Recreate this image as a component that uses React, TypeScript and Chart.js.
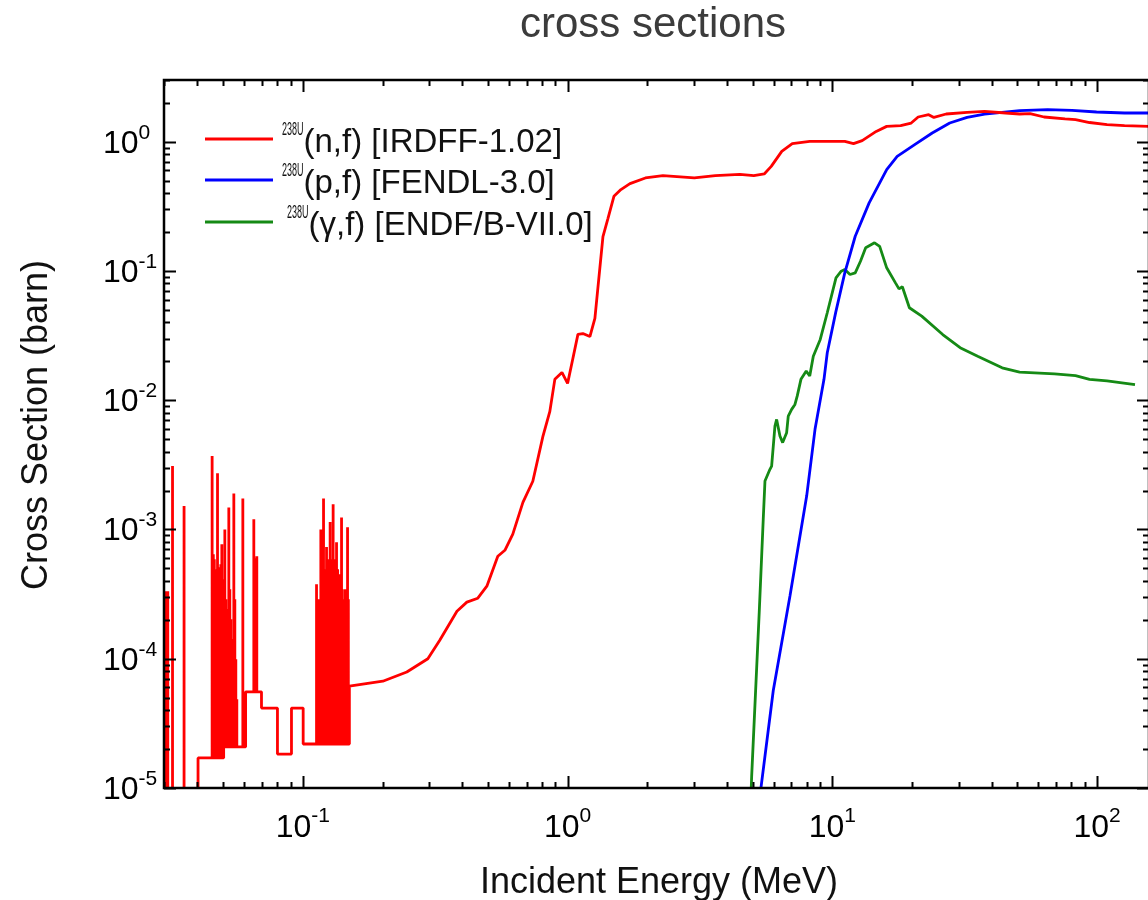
import React, { useEffect, useRef } from "react";
import { Chart, registerables } from "chart.js";

Chart.register(...registerables);

// ---- 238U(n,f) [IRDFF-1.02] ----
// histogram background of the resonance region: level nfStepXS[i] holds from nfStepE[i] to nfStepE[i+1]
const nfStepE = [0.0299, 0.0402, 0.05, 0.0608, 0.0698, 0.0802, 0.0906, 0.1003, 0.1499];
const nfStepXS = [3e-6, 1.71e-5, 2.08e-5, 5.55e-5, 4.15e-5, 1.83e-5, 4.15e-5, 2.19e-5];
// resolved resonance peaks (MeV, barn)
const nfResE = [
  0.0303, 0.0309, 0.0322, 0.0356,
  0.04544, 0.04591, 0.04631, 0.04671, 0.04712, 0.04762, 0.04808, 0.0485, 0.04901, 0.04944,
  0.04987, 0.05031, 0.05075, 0.05119, 0.05164, 0.05209, 0.05254, 0.053, 0.05346, 0.05393,
  0.0544, 0.05488, 0.05536, 0.05584, 0.05633,
  0.05935,
  0.0653, 0.06575, 0.0663, 0.06702,
  0.11266, 0.11394, 0.11494, 0.11594, 0.11695, 0.11797, 0.11973, 0.12057, 0.12162, 0.1229,
  0.12376, 0.12484, 0.12593, 0.12681, 0.12792, 0.12904, 0.13016, 0.1313, 0.13268, 0.13407,
  0.13536, 0.13619, 0.13714, 0.13858, 0.14003, 0.14101, 0.142, 0.14324, 0.14474, 0.14601,
  0.14754, 0.14857,
];
const nfResXS = [
  3.33e-4, 3.33e-4, 3.1e-3, 1.52e-3,
  3.7e-3, 6.43e-4, 5.88e-4, 4.92e-4, 2.89e-4, 2.72e-3, 5.1e-4, 4.51e-4, 5.38e-4, 7.69e-4,
  4.12e-4, 2.02e-4, 1.0e-3, 2.89e-4, 1.42e-4, 2.42e-4, 1.48e-3, 3.45e-4, 2.02e-4, 1.19e-4,
  1.42e-4, 1.9e-3, 2.89e-4, 9.9e-5, 4.87e-5,
  1.74e-3,
  1.2e-3, 6.0e-4, 5.5e-4, 6.21e-4,
  3.77e-4, 1.42e-4, 2.89e-4, 2.02e-4, 1.0e-3, 5.88e-4, 1.74e-3, 4.92e-4, 4.12e-4, 7.32e-4,
  5.88e-4, 2.89e-4, 5.38e-4, 1.14e-3, 5.88e-4, 4.12e-4, 1.57e-3, 5.88e-4, 3.45e-4, 7.96e-4,
  4.92e-4, 2.89e-4, 4.51e-4, 4.12e-4, 1.24e-3, 3.45e-4, 2.42e-4, 2.89e-4, 3.45e-4, 2.42e-4,
  1.04e-3, 2.89e-4,
];
// continuum above the resonance region
const nfE = [
  0.1499, 0.2005, 0.247, 0.2966, 0.329, 0.382, 0.4165, 0.458, 0.4955, 0.545, 0.5796, 0.621,
  0.678, 0.739, 0.8068, 0.857, 0.895, 0.952, 1.0, 1.047, 1.094, 1.142, 1.214, 1.268, 1.36,
  1.42, 1.496, 1.59, 1.72, 1.967, 2.291, 3.011, 3.614, 4.473, 5.049, 5.529, 5.877, 6.44,
  7.056, 8.214, 11.14, 12.02, 12.96, 14.64, 16.04, 18.11, 19.85, 21.09, 23.11, 24.18, 26.91,
  32.28, 37.58, 45.1, 50.95, 55.79, 63.02, 75.65, 82.86, 93.61, 109, 126.9, 157,
];
const nfXS = [
  6.14e-5, 6.7e-5, 7.9e-5, 1.0e-4, 1.39e-4, 2.33e-4, 2.74e-4, 2.94e-4, 3.64e-4, 6.2e-4, 6.9e-4,
  9.2e-4, 1.62e-3, 2.36e-3, 5.25e-3, 8.2e-3, 1.45e-2, 1.64e-2, 1.35e-2, 2.1e-2, 3.23e-2,
  3.28e-2, 3.11e-2, 4.29e-2, 0.1845, 0.254, 0.378, 0.426, 0.474, 0.524, 0.546, 0.524, 0.546,
  0.559, 0.546, 0.563, 0.644, 0.841, 0.965, 1.005, 1.005, 0.965, 1.018, 1.201, 1.313, 1.329,
  1.394, 1.552, 1.617, 1.541, 1.637, 1.684, 1.715, 1.667, 1.637, 1.646, 1.552, 1.5, 1.479,
  1.407, 1.353, 1.329, 1.313,
];

// ---- 238U(p,f) [FENDL-3.0] ----
const pfE = [
  5.3, 5.98, 6.916, 8.0, 8.6, 9.297, 9.566, 10.3, 11.14, 12.2, 13.77, 16.04, 17.57, 20.46,
  23.83, 27.75, 32.28, 37.58, 43.73, 50.95, 65.01, 80.37, 99.5, 126.9, 157,
];
const pfXS = [
  8e-6, 5.65e-5, 3.06e-4, 1.82e-3, 5.95e-3, 1.45e-2, 2.33e-2, 4.8e-2, 9.67e-2, 0.1855, 0.336,
  0.608, 0.77, 0.948, 1.167, 1.394, 1.541, 1.637, 1.684, 1.736, 1.767, 1.745, 1.696, 1.667,
  1.667,
];

// ---- 238U(gamma,f) [ENDF/B-VII.0] ----
const gfE = [
  4.92, 4.956, 5.294, 5.482, 5.565, 5.811, 5.897, 6.069, 6.159, 6.339, 6.49, 6.719, 6.814,
  7.018, 7.223, 7.369, 7.609, 7.968, 8.214, 8.472, 9.0, 9.566, 10.32, 10.8, 11.14, 11.66,
  12.2, 12.77, 13.36, 14.43, 15.09, 16.04, 17.31, 17.85, 18.38, 19.54, 21.75, 26.11, 30.38,
  35.38, 43.77, 50.95, 69.04, 82.86, 93.61, 109, 139,
];
const gfXS = [
  8e-6, 1.22e-5, 2.29e-4, 1.2e-3, 2.37e-3, 2.92e-3, 3.09e-3, 6.3e-3, 7.1e-3, 5.28e-3, 4.7e-3,
  5.61e-3, 7.54e-3, 8.49e-3, 9.28e-3, 1.08e-2, 1.45e-2, 1.68e-2, 1.54e-2, 2.19e-2, 2.95e-2,
  4.75e-2, 8.85e-2, 9.95e-2, 0.1026, 9.38e-2, 9.67e-2, 0.1188, 0.151, 0.165, 0.155, 0.1057,
  8.09e-2, 7.27e-2, 7.54e-2, 5.19e-2, 4.47e-2, 3.22e-2, 2.55e-2, 2.19e-2, 1.78e-2, 1.65e-2,
  1.6e-2, 1.55e-2, 1.45e-2, 1.41e-2, 1.32e-2,
];

// axis ranges and labelled decades
const xRange = [0.0299, 157];
const yRange = [1e-5, 3.0];
const xTickExp = [-1, 0, 1, 2];
const yTickExp = [0, -1, -2, -3, -4, -5];

const chartTitle = "cross sections";
const xTitle = "Incident Energy (MeV)";
const yTitle = "Cross Section (barn)";
const legendSup = "238U";
const legendNames = ["(n,f) [IRDFF-1.02]", "(p,f) [FENDL-3.0]", "(\u03b3,f) [ENDF/B-VII.0]"];
const seriesColors = ["#ff0000", "#0000ff", "#158a15"];

const FONT = "'Liberation Sans', Arial, Helvetica, sans-serif";

type Pt = { x: number; y: number };

// Expand the resonance table into a drawable path: histogram steps plus vertical peaks.
function buildNfPath(): Pt[] {
  const events: { e: number; kind: number; i: number }[] = [];
  for (let i = 1; i < nfStepE.length - 1; i++) events.push({ e: nfStepE[i], kind: 0, i });
  nfResE.forEach((e, i) => events.push({ e, kind: 1, i }));
  events.sort((a, b) => a.e - b.e);
  const pts: Pt[] = [{ x: nfStepE[0], y: nfStepXS[0] }];
  let level = nfStepXS[0];
  for (const ev of events) {
    if (ev.kind === 0) {
      pts.push({ x: ev.e, y: level });
      level = nfStepXS[ev.i];
      pts.push({ x: ev.e, y: level });
    } else {
      pts.push({ x: ev.e, y: level }, { x: ev.e, y: nfResXS[ev.i] }, { x: ev.e, y: level });
    }
  }
  pts.push({ x: nfStepE[nfStepE.length - 1], y: level });
  nfE.forEach((e, i) => pts.push({ x: e, y: nfXS[i] }));
  return pts;
}

function zip(xs: number[], ys: number[]): Pt[] {
  return xs.map((x, i) => ({ x, y: ys[i] }));
}

function drawCondensed(ctx: CanvasRenderingContext2D, text: string, x: number, y: number, size: number, sx: number) {
  ctx.save();
  ctx.translate(x, y);
  ctx.scale(sx, 1);
  ctx.font = `${size}px ${FONT}`;
  ctx.textAlign = "left";
  ctx.fillText(text, 0, 0);
  const w = ctx.measureText(text).width * sx;
  ctx.restore();
  return w;
}

const framePlugin = {
  id: "originFrame",
  afterDatasetsDraw(chart: any) {
    const { ctx, chartArea: a, scales } = chart;
    const xs = scales.x;
    const ys = scales.y;
    ctx.save();

    // frame
    ctx.strokeStyle = "#000";
    ctx.lineWidth = 2.5;
    ctx.strokeRect(a.left, a.top, a.right - a.left, a.bottom - a.top);

    // inward ticks on all four sides
    ctx.lineWidth = 2;
    ctx.beginPath();
    for (let d = -2; d <= 2; d++) {
      for (let m = 1; m <= 9; m++) {
        const v = m * Math.pow(10, d);
        if (v < xs.min || v > xs.max) continue;
        const px = Math.round(xs.getPixelForValue(v)) + 0.5;
        const len = m === 1 ? 12 : 6;
        ctx.moveTo(px, a.bottom);
        ctx.lineTo(px, a.bottom - len);
        ctx.moveTo(px, a.top);
        ctx.lineTo(px, a.top + len);
      }
    }
    for (let d = -6; d <= 1; d++) {
      for (let m = 1; m <= 9; m++) {
        const v = m * Math.pow(10, d);
        if (v < ys.min * 0.999 || v > ys.max) continue;
        const py = Math.round(ys.getPixelForValue(v)) + 0.5;
        const len = m === 1 ? 12 : 6;
        ctx.moveTo(a.left, py);
        ctx.lineTo(a.left + len, py);
        ctx.moveTo(a.right, py);
        ctx.lineTo(a.right - len, py);
      }
    }
    ctx.stroke();

    // tick labels
    ctx.fillStyle = "#000";
    ctx.textBaseline = "alphabetic";
    const base = 32;
    const sup = 21;
    for (const e of xTickExp) {
      const px = xs.getPixelForValue(Math.pow(10, e));
      ctx.font = `${base}px ${FONT}`;
      const w1 = ctx.measureText("10").width;
      ctx.font = `${sup}px ${FONT}`;
      const w2 = ctx.measureText(String(e)).width;
      const x0 = px - (w1 + w2) / 2;
      ctx.font = `${base}px ${FONT}`;
      ctx.textAlign = "left";
      ctx.fillText("10", x0, a.bottom + 49);
      ctx.font = `${sup}px ${FONT}`;
      ctx.fillText(String(e), x0 + w1, a.bottom + 34);
    }
    for (const e of yTickExp) {
      const py = ys.getPixelForValue(Math.pow(10, e));
      ctx.font = `${base}px ${FONT}`;
      ctx.textAlign = "left";
      const w1 = ctx.measureText("10").width;
      ctx.fillText("10", 103, py + 11);
      ctx.font = `${sup}px ${FONT}`;
      ctx.fillText(String(e), 103 + w1, py - 3);
    }

    // axis titles
    ctx.font = `36px ${FONT}`;
    ctx.fillStyle = "#111";
    ctx.textAlign = "center";
    ctx.fillText(xTitle, 659, 893);
    ctx.save();
    ctx.translate(47, 425);
    ctx.rotate(-Math.PI / 2);
    ctx.fillText(yTitle, 0, 0);
    ctx.restore();

    // chart title
    ctx.font = `42px ${FONT}`;
    ctx.fillStyle = "#3c3c3c";
    ctx.fillText(chartTitle, 653, 37);

    // legend
    const rows = [139, 180, 222];
    const supX = [282, 282, 287];
    ctx.fillStyle = "#111";
    rows.forEach((y, i) => {
      ctx.strokeStyle = seriesColors[i];
      ctx.lineWidth = 3;
      ctx.beginPath();
      ctx.moveTo(205, y);
      ctx.lineTo(273, y);
      ctx.stroke();
      const w = drawCondensed(ctx, legendSup, supX[i], y - 4, 18, 0.5);
      ctx.font = `33px ${FONT}`;
      ctx.textAlign = "left";
      ctx.fillText(legendNames[i], supX[i] + w, y + 13);
    });

    ctx.restore();
  },
};

export default function App() {
  const canvasRef = useRef<HTMLCanvasElement | null>(null);

  useEffect(() => {
    const canvas = canvasRef.current;
    if (!canvas) return;
    const common = { showLine: true, pointRadius: 0, borderWidth: 2.8, fill: false, borderJoinStyle: "bevel" as const };
    const chart = new Chart(canvas, {
      type: "scatter",
      data: {
        datasets: [
          { ...common, label: legendNames[0], data: buildNfPath(), borderColor: seriesColors[0], order: 0 },
          { ...common, label: legendNames[1], data: zip(pfE, pfXS), borderColor: seriesColors[1], order: 1 },
          { ...common, label: legendNames[2], data: zip(gfE, gfXS), borderColor: seriesColors[2], order: 2 },
        ],
      },
      options: {
        responsive: false,
        animation: false,
        events: [],
        layout: { padding: { left: 164, top: 80, right: 11, bottom: 112 } },
        plugins: { legend: { display: false }, tooltip: { enabled: false }, title: { display: false } },
        scales: {
          x: { type: "logarithmic", min: xRange[0], max: xRange[1], display: false },
          y: { type: "logarithmic", min: yRange[0], max: yRange[1], display: false },
        },
      },
      plugins: [framePlugin],
    });
    return () => chart.destroy();
  }, []);

  return (
    <div
      style={{
        position: "fixed",
        left: 0,
        top: 0,
        width: 1148,
        height: 900,
        overflow: "hidden",
        background: "#fff",
      }}
    >
      <canvas ref={canvasRef} width={1160} height={900} style={{ width: 1160, height: 900, display: "block" }} />
    </div>
  );
}
